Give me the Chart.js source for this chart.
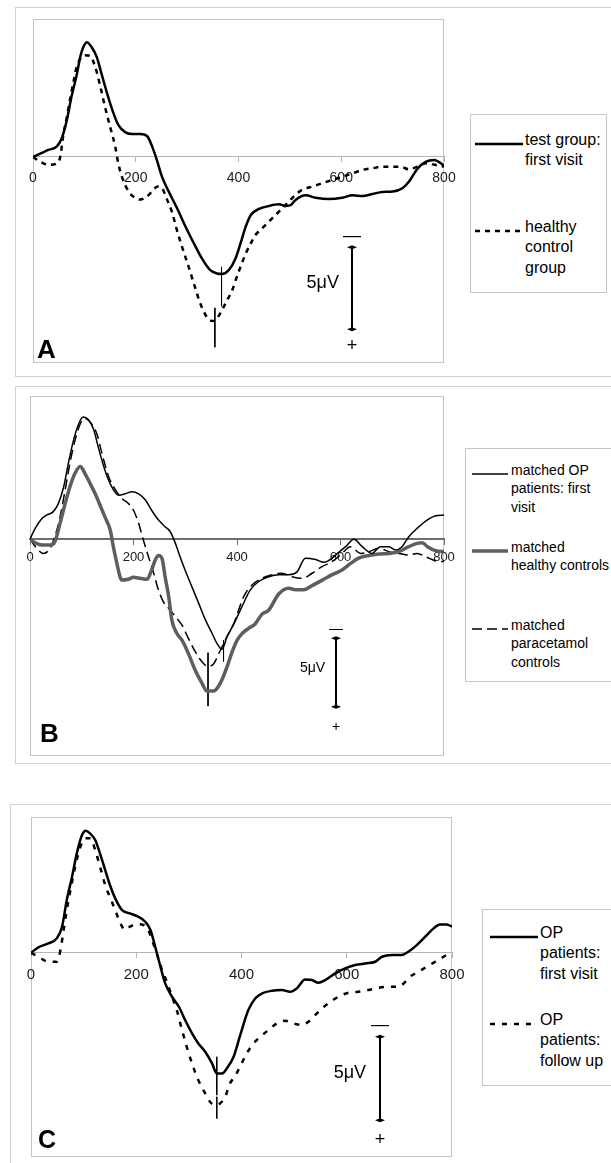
<!DOCTYPE html>
<html lang="en">
<head>
<meta charset="UTF-8">
<title>ERP waveforms A-C</title>
<script src="https://cdn.jsdelivr.net/npm/chart.js"></script>
<style>
* { margin: 0; padding: 0; box-sizing: border-box; }
html, body { width: 611px; height: 1163px; overflow: hidden; background: #fff; }
body { position: relative; font-family: 'Liberation Sans', Arial, sans-serif; color: #000; }
.frame { position: absolute; border: 1px solid #d2d2d2; }
.legend { position: absolute; border: 1px solid #c6c6c6; background: #fff; }
.swatch { position: absolute; }
.entry { position: absolute; white-space: nowrap; }
canvas { position: absolute; left: 0; }
</style>
</head>
<body>
<div class="frame" style="left:15px;top:7px;width:620px;height:370px"></div>
<div class="frame" style="left:15px;top:386px;width:620px;height:378px"></div>
<div class="frame" style="left:10px;top:804px;width:620px;height:380px"></div>
<canvas id="chartA" width="611" height="385" style="top:0"></canvas>
<canvas id="chartB" width="611" height="395" style="top:385px"></canvas>
<canvas id="chartC" width="611" height="368" style="top:795px"></canvas>

<script>
// ---- data (time in ms, amplitude in microvolts, negative plotted up) ----

// Panel A
const timeA_test = [0,30,46,56,66,75,85,92,98,105,114,124,134,144,154,166,180,193,209,222,232,241,251,264,280,297,313,329,345,358,368,381,394,404,414,424,440,459,479,492,502,511,531,550,576,602,622,641,661,680,700,719,732,748,765,781,800];
const voltA_test = [0,-0.43,-0.63,-1.14,-2.26,-3.68,-5.0,-6.1,-6.7,-7.0,-6.7,-6.1,-5.0,-3.9,-2.9,-1.95,-1.5,-1.4,-1.4,-1.28,-0.63,0.18,1.2,2.1,3.1,4.25,5.26,6.2,6.9,7.1,7.13,6.9,6.2,5.26,4.25,3.54,3.17,2.99,2.89,2.99,2.93,2.62,2.34,2.48,2.56,2.48,2.34,2.38,2.26,2.13,2.11,1.91,1.5,0.73,0.28,0.18,0.53];
const timeA_healthy = [0,15,30,45,53,59,66,72,79,85,95,101,111,121,131,140,150,160,166,173,186,199,209,222,232,242,251,261,271,280,290,303,313,323,332,342,352,365,375,388,398,414,424,433,446,459,472,485,498,511,524,544,563,583,602,622,641,661,680,700,719,732,748,765,784,800];
const voltA_healthy = [0,0.3,0.48,0.42,0,-1.34,-2.46,-3.5,-4.6,-5.5,-6.1,-6.2,-6.16,-5.5,-4.3,-3.07,-1.85,-0.63,0.39,1.2,2.1,2.5,2.6,2.4,2.1,1.8,1.9,2.6,3.4,4.45,5.47,6.7,7.7,8.7,9.4,9.9,10.0,9.5,8.9,8.1,7.2,5.9,5.26,4.76,4.35,3.94,3.54,3.13,2.72,2.3,2.0,1.8,1.6,1.4,1.2,1.0,0.79,0.69,0.59,0.59,0.63,0.75,0.59,0.39,0.49,0.59];
const latencyA = [[367, 6.7, 9.1], [354, 9.2, 11.6]];
const legendA = [['test group:', 'first visit'], ['healthy', 'control', 'group']];

// Panel B
const timeB_op = [0,10,23,32,45,55,65,74,84,94,103,113,123,132,145,158,171,184,197,210,223,235,248,261,271,281,290,300,313,326,339,352,361,371,381,394,410,426,442,461,481,500,516,532,552,568,584,594,610,626,642,661,677,694,706,719,732,748,768,784,800];
const voltB_op = [0,-0.78,-1.5,-1.75,-2.0,-2.6,-3.8,-5.5,-7.2,-8.4,-8.9,-8.7,-8.0,-6.7,-5.0,-3.8,-3.2,-3.3,-3.45,-3.3,-2.85,-2.1,-1.4,-0.9,-0.53,0.32,1.3,2.3,3.5,4.7,5.9,6.9,7.6,8.05,7.1,6.2,4.9,3.7,3.1,2.75,2.6,2.6,2.4,1.4,1.5,1.7,1.4,1.05,0.56,0.02,0.56,1.05,0.56,0.56,0.8,0.56,-0.17,-0.78,-1.4,-1.7,-1.75];
const timeB_healthy = [0,10,23,39,48,58,68,77,87,97,106,116,126,135,145,155,161,168,174,177,190,200,213,226,235,242,248,255,261,268,274,284,294,306,319,332,342,355,368,381,390,400,410,423,435,448,461,481,500,513,529,545,565,584,603,619,635,655,674,694,713,732,748,758,768,784,800];
const voltB_healthy = [0,0.27,0.44,0.44,0.2,-1.14,-2.6,-3.8,-4.8,-5.3,-4.8,-4.06,-3.3,-2.5,-1.6,-0.66,0.56,1.8,2.75,3.0,2.94,2.8,2.87,2.94,2.26,1.53,1.2,1.4,2.75,4.2,5.9,6.9,7.4,8.35,9.56,10.5,11.1,11.1,10.5,9.3,8.3,7.4,6.9,6.5,6.2,5.5,5.2,4.0,3.6,3.7,3.7,3.4,3.0,2.6,2.26,1.8,1.4,1.2,1.1,1.05,0.92,0.56,0.32,0.27,0.56,0.85,0.92];
const timeB_para = [0,13,26,39,48,58,68,77,87,97,106,119,129,139,152,165,177,190,200,210,219,229,239,248,258,268,281,294,306,319,332,344,355,365,377,394,413,429,448,468,487,506,526,545,565,584,603,619,639,655,674,694,713,732,748,765,784,800];
const voltB_para = [0,0.68,1.05,0.68,-0.17,-1.6,-3.6,-5.5,-7.2,-8.4,-8.8,-8.4,-7.7,-6.25,-4.55,-3.6,-2.97,-2.6,-2.1,-1.14,0.07,1.3,2.5,3.7,4.6,5.06,5.67,6.3,7.25,8.2,8.95,9.3,9.1,8.35,7.4,6.15,4.2,3.36,2.87,2.6,2.5,2.75,2.87,2.5,2.0,1.65,1.05,0.56,1.05,0.92,0.68,0.92,1.05,1.17,1.05,1.3,1.6,1.65];
const latencyB = [[344, 8.3, 12.2], [374, 7.4, 8.95]];
const legendB = [['matched OP', 'patients: first', 'visit'], ['matched', 'healthy controls'], ['matched', 'paracetamol', 'controls']];

// Panel C
const timeC_first = [0,14,33,49,59,68,78,87,97,104,112,122,131,141,150,160,173,188,204,217,227,236,246,255,268,281,293,306,318,331,344,353,363,372,385,397,413,426,439,458,477,492,505,521,534,546,559,578,597,616,635,654,667,686,704,717,733,749,765,777,790,800];
const voltC_first = [0,-0.32,-0.56,-0.86,-1.56,-3.16,-4.56,-5.96,-7.06,-7.32,-7.16,-6.76,-5.96,-4.96,-4.06,-3.26,-2.56,-2.36,-2.16,-1.86,-1.36,-0.36,0.84,1.84,2.64,3.24,4.04,4.84,5.44,5.94,6.64,7.24,7.24,6.94,6.24,5.0,3.44,2.74,2.44,2.28,2.24,2.34,2.14,1.6,1.64,1.8,1.64,1.24,0.94,0.74,0.64,0.54,0.24,0.14,0.14,-0.06,-0.46,-0.96,-1.46,-1.7,-1.7,-1.56];
const timeC_follow = [0,14,33,49,56,62,68,75,84,94,103,113,122,132,141,151,160,170,179,188,201,214,223,230,239,249,258,268,277,287,296,306,318,331,340,350,359,369,378,388,397,410,423,436,451,467,483,499,515,527,540,553,569,584,603,622,641,660,679,698,707,720,736,752,768,784,800];
const voltC_follow = [0,0.24,0.54,0.54,-0.16,-1.36,-2.56,-3.76,-5.16,-6.36,-6.86,-6.86,-6.16,-5.06,-4.06,-3.26,-2.56,-1.76,-1.36,-1.56,-1.72,-1.66,-1.36,-0.76,0.04,1.04,1.74,2.64,3.44,4.64,5.64,6.64,7.64,8.44,8.94,9.14,9.04,8.64,7.84,7.4,6.84,6.04,5.44,5.04,4.64,4.24,4.08,4.24,4.34,4.14,3.74,3.34,2.94,2.64,2.4,2.34,2.24,2.1,2.04,2.04,1.88,1.44,1.14,0.84,0.54,0.24,-0.06];
const latencyC = [[353, 6.24, 8.54], [353, 8.64, 9.94]];
const legendC = [['OP', 'patients:', 'first visit'], ['OP', 'patients:', 'follow up']];

const xTicks = [0, 200, 400, 600, 800];

// ---- layout / style per panel ----
Chart.defaults.font.family = "'Liberation Sans', Arial, sans-serif";

const panels = [
  {
    id: 'chartA', letter: 'A', canvasTop: 0, canvasH: 385,
    area: { left: 33, top: 19, right: 444, bottom: 363 },
    yRange: [-8.41, 12.56],
    axisColor: '#b4b4b4', axisWidth: 1, tickFont: 14, tickPad: 8,
    series: [
      { t: timeA_test, v: voltA_test, label: legendA[0], color: '#000', width: 2.5, dash: [] },
      { t: timeA_healthy, v: voltA_healthy, label: legendA[1], color: '#000', width: 2.5, dash: [5, 5] }
    ],
    latency: latencyA,
    bar: { t: 620, from: 5.5, to: 10.5, minus: 4.85, plus: 11.5, textT: 564, textV: 7.7, font: 18 },
    letterFont: 26, letterOff: [4, 5],
    legend: { left: 470, top: 114, width: 137, height: 179, font: 16, lineH: 20.5, textLeft: 525, swatch: [475, 523], rows: [140, 227] }
  },
  {
    id: 'chartB', letter: 'B', canvasTop: 385, canvasH: 395,
    area: { left: 30, top: 396, right: 444, bottom: 756 },
    yRange: [-10.44, 15.84],
    axisColor: '#6e6e6e', axisWidth: 2, tickFont: 13, tickPad: 6,
    series: [
      { t: timeB_op, v: voltB_op, label: legendB[0], color: '#000', width: 1.5, dash: [] },
      { t: timeB_healthy, v: voltB_healthy, label: legendB[1], color: '#5e5e5e', width: 3.5, dash: [] },
      { t: timeB_para, v: voltB_para, label: legendB[2], color: '#000', width: 1.5, dash: [10, 5] }
    ],
    latency: latencyB,
    bar: { t: 592, from: 7.25, to: 12.25, minus: 6.6, plus: 13.7, textT: 546, textV: 9.4, font: 14 },
    letterFont: 26, letterOff: [10, 14],
    legend: { left: 465, top: 448, width: 160, height: 234, font: 14, lineH: 18.5, textLeft: 511, swatch: [472, 508], rows: [470, 547, 625] }
  },
  {
    id: 'chartC', letter: 'C', canvasTop: 795, canvasH: 368,
    area: { left: 31, top: 817, right: 452, bottom: 1157 },
    yRange: [-8.14, 12.25],
    axisColor: '#b4b4b4', axisWidth: 1, tickFont: 15, tickPad: 8,
    series: [
      { t: timeC_first, v: voltC_first, label: legendC[0], color: '#000', width: 2.5, dash: [] },
      { t: timeC_follow, v: voltC_follow, label: legendC[1], color: '#000', width: 2.5, dash: [5, 7] }
    ],
    latency: latencyC,
    bar: { t: 663, from: 5.04, to: 10.04, minus: 4.35, plus: 11.25, textT: 606, textV: 7.2, font: 18 },
    letterFont: 25, letterOff: [7, 9],
    legend: { left: 482, top: 909, width: 160, height: 177, font: 16, lineH: 20.5, textLeft: 540, swatch: [490, 538], rows: [933, 1020] }
  }
];

// frame of the plot area, scale bar, polarity marks and panel letter
function makeExtras(p) {
  return {
    id: 'extras' + p.letter,
    beforeDraw(chart) {
      const { ctx, chartArea: a } = chart;
      ctx.save();
      ctx.strokeStyle = '#c4c4c4';
      ctx.lineWidth = 1;
      ctx.strokeRect(a.left + 0.5, a.top + 0.5, a.width - 1, a.height - 1);
      ctx.restore();
    },
    afterDatasetsDraw(chart) {
      const { ctx, chartArea: a } = chart;
      const xs = chart.scales.x, ys = chart.scales.y;
      const b = p.bar;
      const bx = Math.round(xs.getPixelForValue(b.t));
      const y1 = ys.getPixelForValue(b.from), y2 = ys.getPixelForValue(b.to);
      ctx.save();
      ctx.strokeStyle = '#000';
      ctx.fillStyle = '#000';
      ctx.lineWidth = 2;
      ctx.beginPath();
      ctx.moveTo(bx, y1);
      ctx.lineTo(bx, y2);
      ctx.stroke();
      [y1, y2].forEach(yy => {
        ctx.beginPath();
        ctx.moveTo(bx - 5, yy);
        ctx.lineTo(bx, yy - 2);
        ctx.lineTo(bx + 5, yy);
        ctx.lineTo(bx, yy + 2);
        ctx.closePath();
        ctx.fill();
      });
      ctx.textAlign = 'center';
      ctx.textBaseline = 'middle';
      ctx.font = b.font + "px 'Liberation Sans', Arial, sans-serif";
      ctx.fillText('\u2014', bx, ys.getPixelForValue(b.minus));
      ctx.fillText('+', bx, ys.getPixelForValue(b.plus));
      ctx.fillText('5\u03bcV', xs.getPixelForValue(b.textT), ys.getPixelForValue(b.textV));
      ctx.textAlign = 'left';
      ctx.textBaseline = 'alphabetic';
      ctx.font = 'bold ' + p.letterFont + "px 'Liberation Sans', Arial, sans-serif";
      ctx.fillText(p.letter, a.left + p.letterOff[0], a.bottom - p.letterOff[1]);
      ctx.restore();
    }
  };
}

function buildLegend(p) {
  const L = p.legend;
  const box = document.createElement('div');
  box.className = 'legend';
  Object.assign(box.style, { left: L.left + 'px', top: L.top + 'px', width: L.width + 'px', height: L.height + 'px' });
  document.body.appendChild(box);
  p.series.forEach((s, i) => {
    const cy = L.rows[i];
    const w = L.swatch[1] - L.swatch[0];
    const sw = document.createElement('div');
    sw.className = 'swatch';
    Object.assign(sw.style, { left: L.swatch[0] + 'px', top: (cy - 5) + 'px' });
    sw.innerHTML = '<svg width="' + w + '" height="10"><line x1="0" y1="5" x2="' + w + '" y2="5" stroke="' + s.color +
      '" stroke-width="' + s.width + '" stroke-dasharray="' + (s.dash.length ? s.dash.join(' ') : 'none') + '"/></svg>';
    document.body.appendChild(sw);
    const tx = document.createElement('div');
    tx.className = 'entry';
    Object.assign(tx.style, { left: L.textLeft + 'px', top: (cy - L.lineH / 2) + 'px', fontSize: L.font + 'px', lineHeight: L.lineH + 'px' });
    tx.innerHTML = s.label.join('<br>');
    document.body.appendChild(tx);
  });
}

panels.forEach(p => {
  const datasets = p.series.map(s => ({
    label: s.label.join(' '),
    data: s.t.map((t, i) => ({ x: t, y: s.v[i] })),
    borderColor: s.color,
    borderWidth: s.width,
    borderDash: s.dash,
    pointRadius: 0,
    fill: false,
    cubicInterpolationMode: 'monotone'
  })).concat(p.latency.map(m => ({
    label: 'latency',
    data: [{ x: m[0], y: m[1] }, { x: m[0], y: m[2] }],
    borderColor: '#000',
    borderWidth: 1,
    pointRadius: 0,
    tension: 0
  })));

  new Chart(document.getElementById(p.id), {
    type: 'line',
    data: { datasets },
    options: {
      responsive: false,
      animation: false,
      devicePixelRatio: 1,
      layout: {
        padding: {
          left: p.area.left,
          right: 611 - p.area.right,
          top: p.area.top - p.canvasTop,
          bottom: p.canvasTop + p.canvasH - p.area.bottom
        }
      },
      plugins: { legend: { display: false }, tooltip: { enabled: false } },
      scales: {
        x: {
          type: 'linear', min: 0, max: 800,
          position: { y: 0 },
          afterFit: scale => { scale.height = 0; },
          afterBuildTicks: scale => { scale.ticks = xTicks.map(v => ({ value: v })); },
          grid: { drawOnChartArea: false, drawTicks: true, tickLength: 5, tickColor: p.axisColor },
          border: { display: true, color: p.axisColor, width: p.axisWidth },
          ticks: { color: '#1a1a1a', padding: p.tickPad, maxRotation: 0, autoSkip: false, font: { size: p.tickFont } }
        },
        y: { type: 'linear', reverse: true, min: p.yRange[0], max: p.yRange[1], display: false }
      }
    },
    plugins: [makeExtras(p)]
  });
  buildLegend(p);
});
</script>
</body>
</html>
